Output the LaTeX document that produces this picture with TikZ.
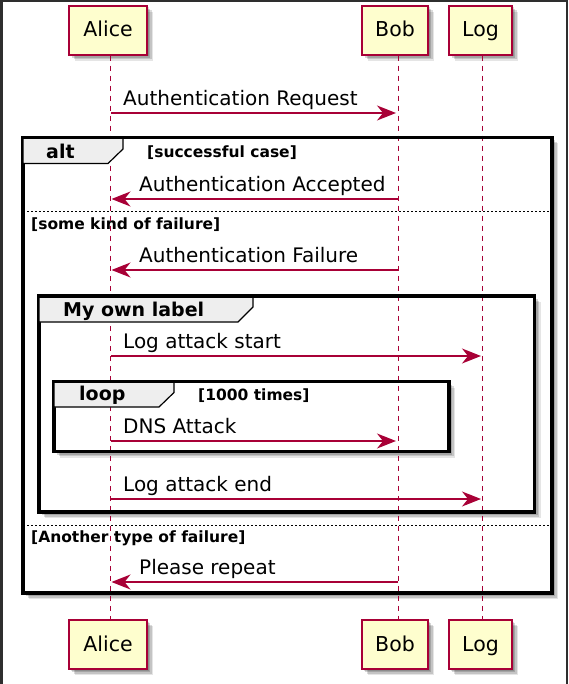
\documentclass[tikz,border=0pt]{standalone}
\usepackage{fontspec}
\setmainfont{DejaVu Sans}
\usetikzlibrary{arrows.meta,shadows}
\definecolor{pborder}{HTML}{A80036}
\definecolor{pfill}{HTML}{FEFECE}
\definecolor{tabfill}{HTML}{EEEEEE}
\definecolor{winedge}{HTML}{2E2E2E}
\begin{document}
\begin{tikzpicture}[x=1pt,y=-1pt,
  softshadow/.style={
    drop shadow={shadow xshift=1.5pt,shadow yshift=-1.5pt,opacity=0.14,fill=black},
    drop shadow={shadow xshift=3pt,shadow yshift=-3pt,opacity=0.16,fill=black},
    drop shadow={shadow xshift=4.5pt,shadow yshift=-4.5pt,opacity=0.14,fill=black},
    drop shadow={shadow xshift=6pt,shadow yshift=-6pt,opacity=0.10,fill=black}},
  participant/.style={draw=pborder, fill=pfill, line width=1.5pt, minimum height=49pt,
    inner sep=0pt, text height=15pt, text depth=2pt, softshadow,
    font=\fontsize{20.5}{24}\selectfont},
  lifeline/.style={draw=pborder, line width=1pt, dash pattern=on 5pt off 5pt},
  msg/.style={draw=pborder, line width=1.3pt, -{Stealth[length=19pt,width=15pt,inset=6pt]}},
  msgtext/.style={font=\fontsize{20}{23}\selectfont, inner sep=0pt, anchor=base west},
  framefill/.style={fill=white, softshadow},
  frameline/.style={draw=black, line width=3.2pt},
  tabbox/.style={fill=tabfill, draw=black, line width=1.2pt},
  tablabel/.style={font=\fontsize{19}{22}\bfseries\selectfont, inner sep=0pt, anchor=base west},
  guard/.style={font=\fontsize{15.5}{18}\bfseries\selectfont, inner sep=0pt, anchor=base west},
  separator/.style={draw=black, line width=1pt, dash pattern=on 2pt off 2pt}
]
\useasboundingbox (0,0) rectangle (568,684);
\fill[white] (0,0) rectangle (568,684);
\fill[winedge] (0,0) rectangle (568,2.5);
\fill[winedge] (0,0) rectangle (2.5,684);
\fill[winedge] (566,0) rectangle (568,684);

% participants
\node[participant, minimum width=78pt] (aliceTop) at (108,30.5) {Alice};
\node[participant, minimum width=66pt] (bobTop) at (395,30.5) {Bob};
\node[participant, minimum width=63pt] (logTop) at (480.5,30.5) {Log};
\node[participant, minimum width=78pt] (aliceBot) at (108,644.5) {Alice};
\node[participant, minimum width=66pt] (bobBot) at (395,644.5) {Bob};
\node[participant, minimum width=63pt] (logBot) at (480.5,644.5) {Log};

% frame backgrounds with shadows
\path[framefill] (23,137.5) rectangle (552,593);
\path[framefill] (39,296) rectangle (534.5,512);
\path[framefill] (54,381.5) rectangle (449,451.5);

% lifelines
\draw[lifeline] ([xshift=2pt]aliceTop.south) -- ([xshift=2pt]aliceBot.north);
\draw[lifeline] ([xshift=3pt]bobTop.south) -- ([xshift=3pt]bobBot.north);
\draw[lifeline] ([xshift=2pt]logTop.south) -- ([xshift=2pt]logBot.north);

% frames
\draw[frameline] (23,137.5) rectangle (552,593);
\draw[frameline] (39,296) rectangle (534.5,512);
\draw[frameline] (54,381.5) rectangle (449,451.5);
\draw[tabbox] (23,137.5) -- (123,137.5) -- (123,149) -- (108,163.5) -- (23,163.5) -- cycle;
\draw[tabbox] (39,296) -- (253,296) -- (253,307) -- (238,322) -- (39,322) -- cycle;
\draw[tabbox] (54,381.5) -- (174,381.5) -- (174,392.5) -- (159,407) -- (54,407) -- cycle;
\draw[frameline] (23,137.5) -- (552,137.5);
\draw[frameline] (39,296) -- (534.5,296);
\draw[frameline] (54,381.5) -- (449,381.5);
\draw[separator] (23,212) -- (552,212);
\draw[separator] (23,525) -- (552,525);

% frame labels and guards
\node[tablabel] (altLbl) at (46,159) {alt};
\node[guard] (g1) at (147,157.5) {[successful case]};
\node[guard] (g2) at (31,230) {[some kind of failure]};
\node[tablabel] (ownLbl) at (63,316) {My own label};
\node[tablabel] (loopLbl) at (79,400.5) {loop};
\node[guard] (g3) at (198,400) {[1000 times]};
\node[guard] (g4) at (31,542.5) {[Another type of failure]};

% message end points on lifelines
\coordinate (a1) at (111,113);   \coordinate (b1) at (396,113);
\coordinate (b2) at (398,199);   \coordinate (a2) at (111.5,199);
\coordinate (b3) at (398,270);   \coordinate (a3) at (111.5,270);
\coordinate (a4) at (111,356);   \coordinate (l4) at (481,356);
\coordinate (a5) at (111,441);   \coordinate (b5) at (396,441);
\coordinate (a6) at (111,499);   \coordinate (l6) at (481,499);
\coordinate (b7) at (398,582);   \coordinate (a7) at (111.5,582);

\draw[msg] (a1) -- (b1);
\draw[msg] (b2) -- (a2);
\draw[msg] (b3) -- (a3);
\draw[msg] (a4) -- (l4);
\draw[msg] (a5) -- (b5);
\draw[msg] (a6) -- (l6);
\draw[msg] (b7) -- (a7);

\node[msgtext] (t1) at (123,105.5) {Authentication Request};
\node[msgtext] (t2) at (139,191.5) {Authentication Accepted};
\node[msgtext] (t3) at (139,262.5) {Authentication Failure};
\node[msgtext] (t4) at (123,348.5) {Log attack start};
\node[msgtext] (t5) at (123,433.5) {DNS Attack};
\node[msgtext] (t6) at (123,491.5) {Log attack end};
\node[msgtext] (t7) at (139,574.5) {Please repeat};
\end{tikzpicture}
\end{document}
